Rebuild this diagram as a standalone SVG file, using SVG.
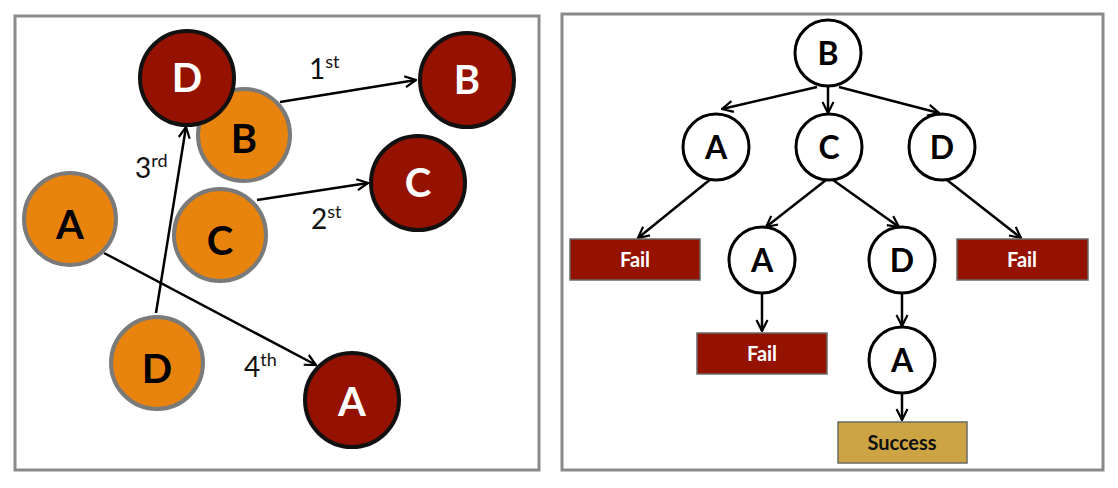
<svg xmlns="http://www.w3.org/2000/svg" width="1118" height="488" viewBox="0 0 1118 488">
<defs>
<marker id="arr" viewBox="0 0 14 14" refX="13" refY="7" markerWidth="14" markerHeight="14" markerUnits="userSpaceOnUse" orient="auto">
<polyline points="2,1.5 13,7 2,12.5" fill="none" stroke="#000" stroke-width="2.2"/>
</marker>
<style>
.frame{fill:#fff;stroke:#8a8a8a;stroke-width:3}
.dk{fill:#951200;stroke:#111;stroke-width:4}
.or{fill:#E8830E;stroke:#7a7a7a;stroke-width:4}
.wc{fill:#fff;stroke:#000;stroke-width:3}
.lw{font-family:Lato,"Open Sans",sans-serif;font-weight:bold;font-size:40px;fill:#fff;text-anchor:middle}
.lb{font-family:Lato,"Open Sans",sans-serif;font-weight:bold;font-size:40px;fill:#000;text-anchor:middle}
.tl{font-family:Lato,"Open Sans",sans-serif;font-weight:bold;font-size:32px;fill:#000;text-anchor:middle}
.ord{font-family:Lato,"Open Sans",sans-serif;font-size:28px;fill:#111}
.sup{font-size:18px}
.fail{fill:#951200;stroke:#6a6a6a;stroke-width:1.5}
.succ{fill:#CCA444;stroke:#6a6a6a;stroke-width:1.5}
.bt{font-family:Lato,"Open Sans",sans-serif;font-weight:bold;font-size:20px;text-anchor:middle}
.c{fill:none;stroke:#000;stroke-width:2.5;marker-end:url(#arr)}
</style>
</defs>
<rect class="frame" x="15" y="16" width="524" height="454"/>
<rect class="frame" x="562" y="14" width="541" height="456"/>

<g id="connectors">
<line class="c" x1="280" y1="102" x2="416" y2="80"/>
<line class="c" x1="257" y1="200" x2="368" y2="183"/>
<line class="c" x1="156" y1="313" x2="186" y2="127"/>
<line class="c" x1="104" y1="253" x2="316" y2="365"/>
<line class="c" x1="817" y1="87" x2="722" y2="109"/>
<line class="c" x1="828" y1="87" x2="828" y2="113"/>
<line class="c" x1="839" y1="87" x2="939" y2="113"/>
<line class="c" x1="712" y1="178" x2="638" y2="238"/>
<line class="c" x1="826" y1="180" x2="766" y2="227"/>
<line class="c" x1="833" y1="180" x2="899" y2="227"/>
<line class="c" x1="947" y1="180" x2="1021" y2="238"/>
<line class="c" x1="762" y1="293" x2="762" y2="331"/>
<line class="c" x1="902" y1="293" x2="902" y2="326"/>
<line class="c" x1="902" y1="393" x2="902" y2="420"/>
</g>

<g id="labels">
<text class="ord" x="309" y="79">1<tspan class="sup" dy="-11">st</tspan></text>
<text class="ord" x="311" y="229">2<tspan class="sup" dy="-11">st</tspan></text>
<text class="ord" x="135" y="178">3<tspan class="sup" dy="-11">rd</tspan></text>
<text class="ord" x="244" y="377">4<tspan class="sup" dy="-11">th</tspan></text>
</g>

<g id="dark-B"><circle class="dk" cx="467" cy="80" r="47"/><text class="lw" x="467" y="94">B</text></g>
<g id="dark-C"><circle class="dk" cx="418" cy="183" r="47"/><text class="lw" x="418" y="197">C</text></g>
<g id="dark-A"><circle class="dk" cx="352" cy="400" r="47"/><text class="lw" x="352" y="416">A</text></g>
<g id="orange-B"><circle class="or" cx="244" cy="135" r="46"/><text class="lb" x="244" y="153">B</text></g>
<g id="dark-D"><circle class="dk" cx="187" cy="78" r="47"/><text class="lw" x="187" y="92">D</text></g>
<g id="orange-C"><circle class="or" cx="220" cy="235" r="46"/><text class="lb" x="220" y="255">C</text></g>
<g id="orange-A"><circle class="or" cx="70" cy="219" r="46"/><text class="lb" x="70" y="239">A</text></g>
<g id="orange-D"><circle class="or" cx="157" cy="363" r="46"/><text class="lb" x="157" y="383">D</text></g>

<g id="tree-B"><circle class="wc" cx="828" cy="53" r="33"/><text class="tl" x="828" y="65">B</text></g>
<g id="tree-A1"><circle class="wc" cx="716" cy="147" r="33"/><text class="tl" x="716" y="159">A</text></g>
<g id="tree-C"><circle class="wc" cx="829" cy="147" r="33"/><text class="tl" x="829" y="159">C</text></g>
<g id="tree-D1"><circle class="wc" cx="942" cy="147" r="33"/><text class="tl" x="942" y="159">D</text></g>
<g id="tree-A2"><circle class="wc" cx="762" cy="260" r="33"/><text class="tl" x="762" y="272">A</text></g>
<g id="tree-D2"><circle class="wc" cx="902" cy="260" r="33"/><text class="tl" x="902" y="272">D</text></g>
<g id="tree-A3"><circle class="wc" cx="902" cy="360" r="33"/><text class="tl" x="902" y="372">A</text></g>

<g id="fail-1"><rect class="fail" x="570" y="239" width="130" height="41"/><text class="bt" x="635" y="267" fill="#fff">Fail</text></g>
<g id="fail-2"><rect class="fail" x="957" y="239" width="131" height="41"/><text class="bt" x="1022" y="267" fill="#fff">Fail</text></g>
<g id="fail-3"><rect class="fail" x="697" y="333" width="130" height="41"/><text class="bt" x="762" y="361" fill="#fff">Fail</text></g>
<g id="success"><rect class="succ" x="838" y="422" width="129" height="41"/><text class="bt" x="902" y="450" fill="#111">Success</text></g>
</svg>
